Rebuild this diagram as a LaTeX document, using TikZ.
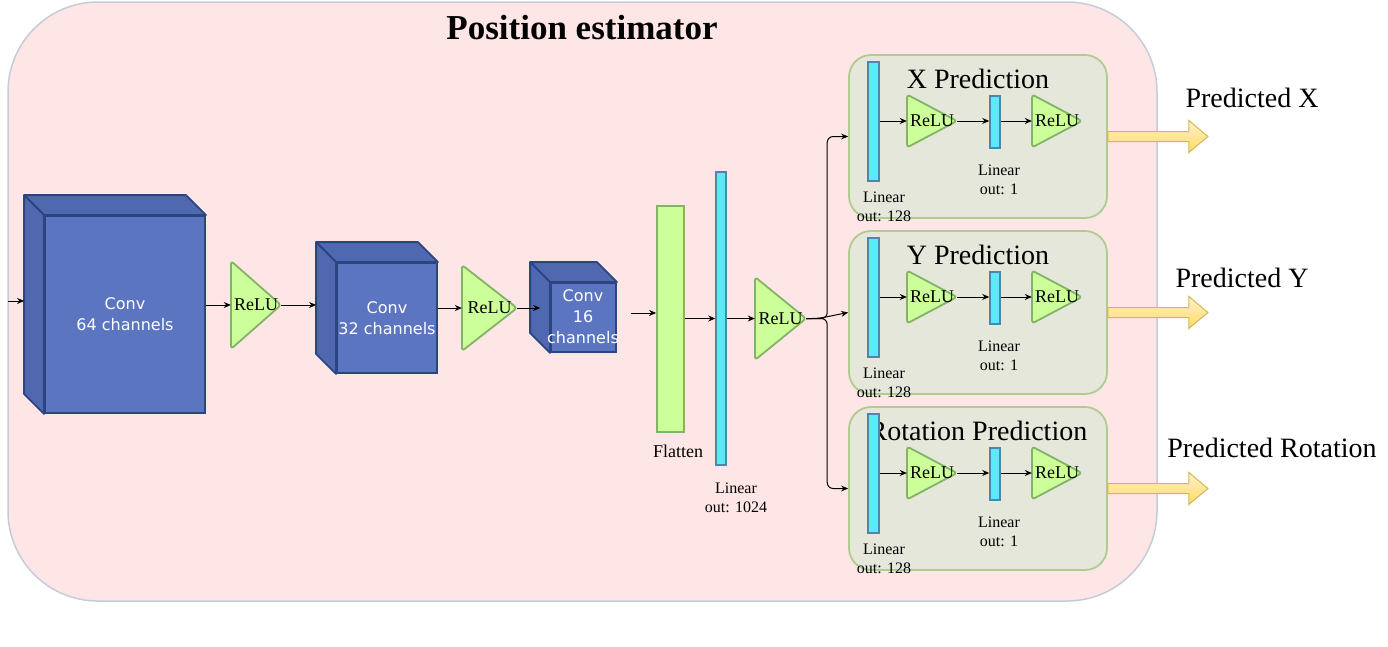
\documentclass[tikz,border=0pt]{standalone}
\usepackage{fontspec}
\setmainfont{Liberation Serif}
\newfontfamily\convsans{DejaVu Sans}
\usetikzlibrary{arrows.meta}
\definecolor{pinkbg}{RGB}{255,230,230}
\definecolor{pinkline}{RGB}{196,204,216}
\definecolor{cubefill}{RGB}{91,117,193}
\definecolor{cubeside}{RGB}{80,104,176}
\definecolor{cubeline}{RGB}{44,68,128}
\definecolor{relufill}{HTML}{CCFF99}
\definecolor{reluedge}{HTML}{82B366}
\definecolor{cyanfill}{RGB}{94,232,252}
\definecolor{cyanedge}{RGB}{74,138,168}
\definecolor{predfill}{RGB}{228,231,218}
\definecolor{prededge}{RGB}{174,204,144}
\definecolor{yelA}{HTML}{FFF2CC}
\definecolor{yelB}{HTML}{FFD966}
\definecolor{yeledge}{HTML}{D6B656}
\tikzset{
  conn/.style={draw=black, line width=1pt, -{Stealth[length=7pt,width=6pt]}},
  cubefront/.style={rectangle, fill=cubefill, draw=cubeline, line width=1.8pt, inner sep=0},
  cubeface/.style={fill=cubeside, draw=cubeline, line width=1.8pt, line join=round},
  cubetext/.style={text=white, font=\convsans\fontsize{16}{21}\selectfont, align=center, inner sep=0},
  relubox/.style={rectangle, inner sep=0, font=\fontsize{18}{20}\selectfont},
  relushape/.style={fill=relufill, draw=reluedge, line width=1.8pt, rounded corners=3pt, line join=round},
  bar/.style={rectangle, fill=cyanfill, draw=cyanedge, line width=1.5pt, inner sep=0},
  flatbox/.style={rectangle, fill=relufill, draw=reluedge, line width=1.8pt, inner sep=0},
  lbl/.style={font=\fontsize{16}{19}\selectfont, align=center, inner sep=0},
  predbox/.style={rectangle, rounded corners=22pt, fill=predfill, draw=prededge, line width=1.8pt, minimum width=258pt, minimum height=163pt, inner sep=0},
  predtitle/.style={font=\fontsize{28}{32}\selectfont, inner sep=0},
  outtext/.style={font=\fontsize{28}{32}\selectfont, inner sep=0},
  yelarrow/.style={top color=yelA, bottom color=yelB, draw=yeledge, line width=1pt, line join=miter},
}
\newcommand\relunode[5]{%
  \draw[relushape] ({#2-#4/2},{#3-#5/2}) -- ({#2+#4/2},{#3}) -- ({#2-#4/2},{#3+#5/2}) -- cycle;
  \node[relubox, minimum width=#4pt, minimum height=#5pt] (#1) at ({#2},{#3}) {ReLU};
}
\newcommand\cubesides[1]{%
  \draw[cubeface] (#1.north west) -- ++(-20,-20) -- ([xshift=-20pt,yshift=20pt]#1.north east) -- (#1.north east) -- cycle;
  \draw[cubeface] (#1.north west) -- ++(-20,-20) -- ([xshift=-20pt,yshift=20pt]#1.south west) -- (#1.south west) -- cycle;
}
\newcommand\predblock[3]{%
  \node[predbox] (#1) at (978,{#2}) {};
  \node[predtitle] (#1t) at (978,{#2-58}) {#3};
  \node[bar, minimum width=11pt, minimum height=119pt] (#1a) at (873.5,{#2-15}) {};
  \relunode{#1r}{932}{#2-15.5}{50}{53}
  \node[bar, minimum width=10pt, minimum height=52pt] (#1b) at (995,{#2-14.5}) {};
  \relunode{#1s}{1057}{#2-15.5}{50}{53}
  \draw[conn] (#1a.east |- #1r.west) -- (#1r.west);
  \draw[conn] (#1r.east) -- (#1b.west |- #1r.east);
  \draw[conn] (#1b.east |- #1r.east) -- (#1s.west);
  \node[lbl] (#1l1) at (999,{#2+43}) {Linear\\out: 1};
  \node[lbl] (#1l2) at (884,{#2+70.5}) {Linear\\out: 128};
  \draw[yelarrow] (#1.east) ++(0,-5) -- ++(81,0) -- ++(0,-11) -- ++(19,16) -- ++(-19,16) -- ++(0,-11) -- ++(-81,0) -- cycle;
}
\begin{document}
\begin{tikzpicture}[x=1pt,y=-1pt]
\useasboundingbox (0,0) rectangle (1388,646);
% outer box
\draw[fill=pinkbg, draw=pinkline, line width=1.5pt, rounded corners=90pt] (8,2) rectangle (1157,601);
\node[font=\bfseries\fontsize{35}{40}\selectfont, inner sep=0] (title) at (582,28) {Position estimator};
% cubes
\node[cubefront, minimum width=160pt, minimum height=197pt] (c64) at (125,314.5) {};
\cubesides{c64}
\node[cubetext] (c64t) at (c64.center) {Conv\\64 channels};
\node[cubefront, minimum width=100pt, minimum height=110pt] (c32) at (387,318) {};
\cubesides{c32}
\node[cubetext] (c32t) at (c32.center) {Conv\\32 channels};
\node[cubefront, minimum width=65pt, minimum height=69pt] (c16) at (583.5,317.5) {};
\cubesides{c16}
\node[cubetext] (c16t) at (583,317) {Conv\\16\\channels};
\coordinate (c64back) at ([xshift=-20pt]c64.west);
\coordinate (c32back) at ([xshift=-20pt]c32.west);
\coordinate (c16back) at ([xshift=-10pt]c16.west);
\coordinate (in) at (8,301);
\coordinate (c16out) at ([xshift=14pt,yshift=4.5pt]c16.east);
% relus
\relunode{r1}{256}{305}{50}{88}
\relunode{r2}{489.5}{308}{55}{86}
\relunode{r3}{780.5}{318.5}{51}{83}
% flatten and linear
\node[flatbox, minimum width=27pt, minimum height=226pt] (flat) at (670.5,319) {};
\node[lbl, font=\fontsize{18}{20}\selectfont] (flatl) at (678,451) {Flatten};
\node[bar, minimum width=10pt, minimum height=293pt] (lin) at (721,318.5) {};
\node[lbl] (linl) at (736,497.5) {Linear\\out: 1024};
% connectors
\draw[conn] (in) -- (in -| c64back);
\draw[conn] (c64.east |- r1.west) -- (r1.west);
\draw[conn] (r1.east) -- (r1.east -| c32back);
\draw[conn] (c32.east |- r2.west) -- (r2.west);
\draw[conn] (r2.east) -- (r2.east -| c16back);
\draw[conn] (c16out) -- (c16out -| flat.west);
\draw[conn] (flat.east |- r3.west) -- (lin.west |- r3.west);
\draw[conn] (lin.east |- r3.west) -- (r3.west);
% prediction blocks
\predblock{px}{136.5}{X Prediction}
\predblock{py}{312.5}{Y Prediction}
\predblock{pr}{488.5}{Rotation Prediction}
\draw[conn, rounded corners=6pt] (r3.east) -- ++(21,0) |- (px.west);
\draw[conn, rounded corners=6pt] (r3.east) -- ++(12,0) -- (py.west);
\draw[conn, rounded corners=6pt] (r3.east) -- ++(21,0) |- (pr.west);
\node[outtext] (ox) at (1252,98) {Predicted X};
\node[outtext] (oy) at (1242,278) {Predicted Y};
\node[outtext] (or) at (1272,448) {Predicted Rotation};
\end{tikzpicture}
\end{document}
